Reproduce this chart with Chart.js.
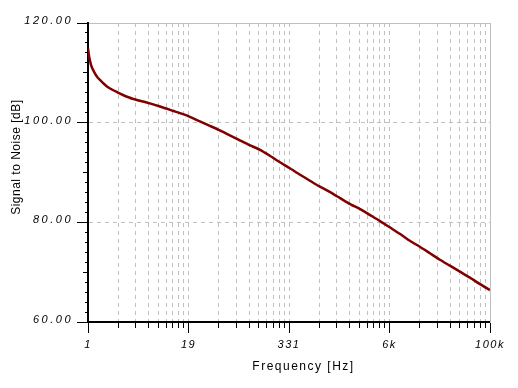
<!DOCTYPE html>
<html><head><meta charset="utf-8">
<script src="https://cdn.jsdelivr.net/npm/chart.js@4.4.1/dist/chart.umd.min.js"></script>
<style>html,body{margin:0;padding:0;background:#fff;overflow:hidden;}</style>
</head><body>
<canvas id="c" width="518" height="388" style="width:518px;height:388px;display:block"></canvas>
<script>
// Data
const freqHz = [1, 1.03, 1.1, 1.19, 1.31, 1.51, 1.74, 2.01, 2.32, 2.68,
  3.57, 5.24, 7.68, 11.3, 16.5, 24.2, 32.3, 43, 57.3, 76.4,
  102, 136, 181, 241, 321, 428, 570, 759, 1012, 1349,
  1797, 2394, 3190, 4250, 5664, 7550, 10060, 13400, 17860, 23800,
  31710, 42260, 56310, 75030, 100000];
const snrDb = [114.9, 113.4, 111.4, 110.2, 109.1, 108.1, 107.2, 106.6, 106.1, 105.6,
  104.8, 104.1, 103.3, 102.4, 101.5, 100.3, 99.4, 98.5, 97.5, 96.5,
  95.5, 94.6, 93.4, 92.1, 90.9, 89.6, 88.4, 87.2, 86.1, 84.9,
  83.7, 82.7, 81.5, 80.3, 79.0, 77.7, 76.3, 75.1, 73.8, 72.5,
  71.3, 70.1, 68.9, 67.6, 66.4];
const xTickLabels = ['1', '19', '331', '6k', '100k'];
const xMin = 1, xMax = 100000;
const yMin = 60, yMax = 120, yMajorStep = 20, yMidStep = 10, yMinorStep = 2;

// Tick positions: each labelled segment is subdivided like a decade
const segExp = Math.log10(xMax) / (xTickLabels.length - 1);
const xTickValues = [];
for (let n = 0; n < xTickLabels.length - 1; n++) {
  for (let k = 1; k <= 9; k++) xTickValues.push(Math.pow(10, segExp * (n + Math.log10(k))));
}
xTickValues.push(xMax);
const yTickValues = [];
for (let v = yMin; v <= yMax; v += yMinorStep) yTickValues.push(v);

const GRID = '#c0c0c0';
function wrapSpacing(chart, scale, fn, sp) {
  if (!scale || (scale[fn] && scale[fn]._wrapped)) return;
  const orig = scale[fn];
  const w = function (...a) {
    const prev = chart.ctx.letterSpacing;
    chart.ctx.letterSpacing = sp;
    const r = orig.apply(this, a);
    chart.ctx.letterSpacing = prev;
    return r;
  };
  w._wrapped = true;
  scale[fn] = w;
}
const spacingPlugin = {
  id: 'spacing',
  beforeUpdate(c) { c.ctx.letterSpacing = '1.5px'; },
  afterUpdate(c) {
    wrapSpacing(c, c.scales.y, 'drawLabels', '2.5px');
    wrapSpacing(c, c.scales.y, 'drawTitle', '0.5px');
    wrapSpacing(c, c.scales.x, 'drawLabels', '1.5px');
    wrapSpacing(c, c.scales.x, 'drawTitle', '1.5px');
  },
  beforeDraw(c) { c.ctx.letterSpacing = '1.5px'; }
};

new Chart(document.getElementById('c'), {
  type: 'line',
  data: {
    datasets: [{
      data: freqHz.map((f, i) => ({ x: f, y: snrDb[i] })),
      borderColor: '#800000',
      borderWidth: 2.5,
      pointRadius: 0,
      tension: 0.2,
      fill: false
    }]
  },
  plugins: [spacingPlugin],
  options: {
    responsive: false,
    animation: false,
    devicePixelRatio: 1,
    layout: { padding: { left: 4, top: 23, right: 28, bottom: 0 } },
    plugins: { legend: { display: false }, tooltip: { enabled: false } },
    scales: {
      x: {
        type: 'logarithmic', position: 'bottom', min: xMin, max: xMax,
        afterBuildTicks: s => { s.ticks = xTickValues.map(v => ({ value: v })); },
        afterFit: s => { s.height = 66; },
        ticks: {
          autoSkip: false, maxRotation: 0, minRotation: 0, padding: 5,
          color: '#000', font: { family: 'Liberation Sans', size: 11, style: 'italic' },
          callback: (v, i) => (i % 9 === 0 ? xTickLabels[i / 9] : '')
        },
        grid: {
          color: c => (c.index === 0 || c.index === xTickValues.length - 1) ? 'rgba(0,0,0,0)' : GRID,
          lineWidth: 1,
          tickLength: 11, tickColor: '#000', tickWidth: 1,
          tickBorderDash: c => (c.index % 9 === 0 ? [] : [5, 100])
        },
        border: { display: true, color: '#000', width: 2, dash: [4, 4] },
        title: {
          display: true, text: '      Frequency [Hz]', color: '#000',
          font: { family: 'Liberation Sans', size: 12 }, padding: { top: 4, bottom: 14 }
        }
      },
      x2: {
        type: 'logarithmic', position: 'top', min: xMin, max: xMax,
        afterFit: s => { s.height = 0; },
        ticks: { display: false },
        grid: { drawOnChartArea: false, drawTicks: false },
        border: { display: true, color: GRID, width: 1 }
      },
      y: {
        type: 'linear', position: 'left', min: yMin, max: yMax,
        afterBuildTicks: s => { s.ticks = yTickValues.map(v => ({ value: v })); },
        afterFit: s => { s.width = 84; },
        ticks: {
          autoSkip: false, padding: 4, labelOffset: -2,
          color: '#000', font: { family: 'Liberation Sans', size: 11, style: 'italic' },
          callback: v => (v % yMajorStep === 0 ? v.toFixed(2) : '')
        },
        grid: {
          color: c => (c.tick && c.tick.value % yMajorStep === 0 && c.tick.value !== yMin && c.tick.value !== yMax) ? GRID : 'rgba(0,0,0,0)',
          lineWidth: 1,
          tickLength: 11, tickColor: '#000', tickWidth: 1,
          tickBorderDash: c => {
            const v = c.tick ? c.tick.value : 0;
            if (v % yMajorStep === 0) return [];
            if (v % yMidStep === 0) return [0, 6, 5, 100];
            return [0, 8, 3, 100];
          }
        },
        border: { display: true, color: '#000', width: 2, dash: [4, 4] },
        title: {
          display: true, text: '        Signal to Noise [dB]', color: '#000',
          font: { family: 'Liberation Sans', size: 12 }, padding: { top: 5, bottom: 2 }
        }
      },
      y2: {
        type: 'linear', position: 'right', min: yMin, max: yMax,
        afterFit: s => { s.width = 0; },
        ticks: { display: false },
        grid: { drawOnChartArea: false, drawTicks: false },
        border: { display: true, color: GRID, width: 1 }
      }
    }
  }
});
</script>
</body></html>
